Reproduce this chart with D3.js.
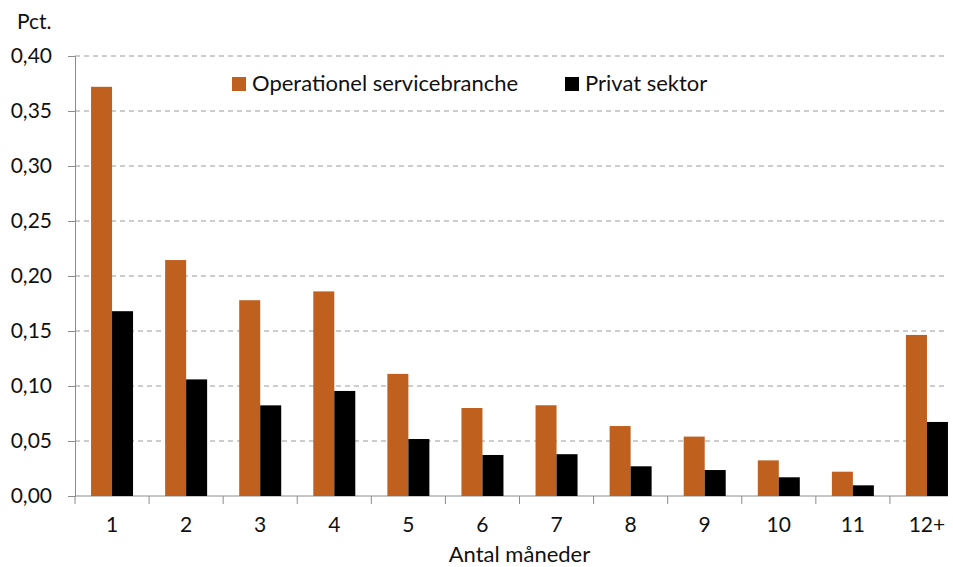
<!DOCTYPE html>
<html><head><meta charset="utf-8">
<script src="https://cdn.jsdelivr.net/npm/d3@7/dist/d3.min.js"></script>
<style>body{margin:0;background:#fff}svg{display:block}text{font-family:Lato,"Open Sans",sans-serif;fill:#111}</style>
</head><body><svg id="c" width="953" height="567"></svg>
<script>
const categories = ["1","2","3","4","5","6","7","8","9","10","11","12+"];
const seriesNames = ["Operationel servicebranche","Privat sektor"];
const operationel = [0.372,0.2145,0.178,0.186,0.111,0.080,0.0825,0.0636,0.054,0.0324,0.0221,0.1464];
const privat = [0.168,0.106,0.0824,0.0955,0.0518,0.0373,0.038,0.027,0.0236,0.017,0.0097,0.0673];
const yTicks = [0,0.05,0.10,0.15,0.20,0.25,0.30,0.35,0.40];
const colors = ["#C0601E","#000000"];

const svg = d3.select("#c");
const x0 = 75, x1 = 964, yTop = 56, yBot = 496, gridEnd = 948;
const x = d3.scaleBand().domain(categories).range([x0, x1]).paddingInner(0).paddingOuter(0);
const y = d3.scaleLinear().domain([0, 0.40]).range([yBot, yTop]);
const fmt = v => d3.format(".2f")(v).replace(".", ",");

// gridlines
svg.append("g").selectAll("line").data(yTicks.filter(d => d > 0)).join("line")
  .attr("x1", x0).attr("x2", gridEnd).attr("y1", d => y(d)).attr("y2", d => y(d))
  .attr("stroke", "#9a9a9a").attr("stroke-width", 1).attr("stroke-dasharray", "5,4");

// y axis
const ya = svg.append("g").attr("transform", `translate(${x0},0)`)
  .call(d3.axisLeft(y).tickValues(yTicks).tickFormat(fmt).tickSize(7).tickPadding(16));
ya.select(".domain").attr("stroke", "#8c8c8c");
ya.selectAll(".tick line").attr("stroke", "#8c8c8c");
ya.selectAll("text").style("font-size", "21px").attr("fill", "#111");

// x axis
const xa = svg.append("g").attr("transform", `translate(0,${yBot})`)
  .call(d3.axisBottom(x).tickSize(0).tickPadding(21));
xa.select(".domain").attr("stroke", "#8c8c8c").attr("d", `M${x0},0H${gridEnd}`);
xa.selectAll("text").style("font-size", "21px").attr("fill", "#111");
// boundary ticks
const bounds = categories.map(c => x(c));
svg.append("g").selectAll("line").data(bounds).join("line")
  .attr("x1", d => d).attr("x2", d => d).attr("y1", yBot).attr("y2", yBot + 8)
  .attr("stroke", "#8c8c8c");

// bars
const bw = 21;
const series = [operationel, privat];
series.forEach((vals, si) => {
  svg.append("g").selectAll("rect").data(categories.map((c, i) => ({c, v: vals[i]}))).join("rect")
    .attr("x", d => x(d.c) + x.bandwidth() / 2 - bw + si * bw)
    .attr("width", bw)
    .attr("y", d => y(d.v))
    .attr("height", d => yBot - y(d.v))
    .attr("fill", colors[si]);
});

// legend
const leg = [{x: 232, t: seriesNames[0], c: colors[0]}, {x: 565, t: seriesNames[1], c: colors[1]}];
leg.forEach(l => {
  svg.append("rect").attr("x", l.x).attr("y", 77).attr("width", 14).attr("height", 14).attr("fill", l.c);
  svg.append("text").attr("x", l.x + 20).attr("y", 91).style("font-size", "22px").text(l.t);
});

// labels
svg.append("text").attr("x", 17).attr("y", 29).style("font-size", "21px").text("Pct.");
svg.append("text").attr("x", (x0 + gridEnd) / 2 + 8).attr("y", 562).attr("text-anchor", "middle")
  .style("font-size", "22px").text("Antal måneder");
</script></body></html>
